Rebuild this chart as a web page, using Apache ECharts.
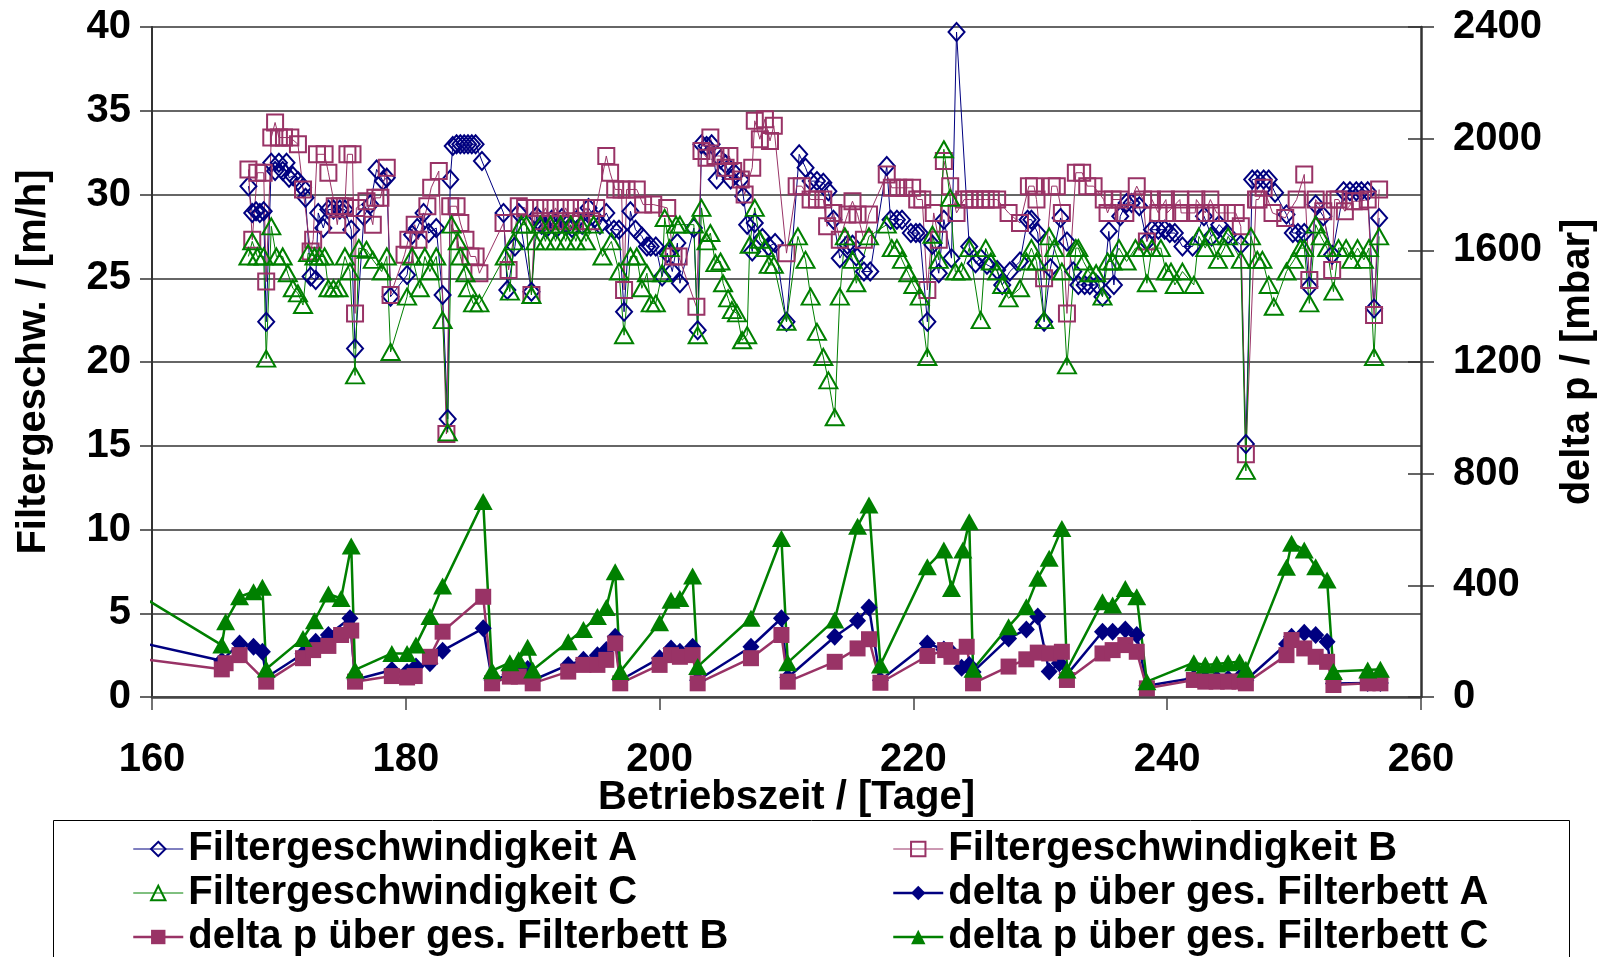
<!DOCTYPE html>
<html>
<head>
<meta charset="utf-8">
<title>Filtergeschwindigkeit und delta p</title>
<script src="https://cdn.jsdelivr.net/npm/echarts@6/dist/echarts.min.js"></script>
<style>
  html, body { margin: 0; padding: 0; background: #fff; }
  #chart { width: 1603px; height: 957px; }
</style>
</head>
<body>
<div id="chart"></div>
<script>
// Filter velocity (m/h) per filter, [day, value]
const velA = [[167.6,30.5],[167.9,28.9],[168.2,29.0],[168.5,28.9],[168.8,29.0],[169.0,22.4],[169.4,31.9],[169.7,31.4],[170.0,31.9],[170.3,31.4],[170.6,31.9],[170.8,31.0],[171.1,31.1],[171.5,30.8],[171.9,30.4],[172.1,29.8],[172.5,25.1],[172.9,24.9],[173.1,28.9],[173.5,28.0],[173.9,29.1],[174.3,29.1],[174.8,29.1],[175.2,29.1],[175.7,27.9],[176.0,20.8],[176.7,28.7],[177.2,29.4],[177.7,31.5],[178.2,30.8],[178.5,31.0],[178.8,23.9],[180.1,25.2],[180.5,27.6],[180.9,28.0],[181.4,28.9],[181.8,27.7],[182.4,28.0],[182.9,24.0],[183.3,16.6],[183.5,30.9],[183.7,32.9],[184.0,33.0],[184.3,33.0],[184.6,33.0],[184.9,33.0],[185.2,33.0],[185.5,33.0],[186.0,32.0],[187.7,28.9],[188.0,24.3],[188.6,26.9],[188.9,28.9],[189.9,24.2],[190.3,28.7],[190.7,28.2],[191.1,28.0],[191.5,28.5],[191.9,28.0],[192.3,28.6],[192.7,28.2],[193.1,28.0],[193.5,28.5],[193.9,28.2],[194.4,29.2],[194.9,28.6],[195.3,28.2],[195.8,28.9],[196.4,27.9],[196.8,27.9],[197.2,23.0],[197.7,29.0],[198.1,27.9],[198.6,27.5],[199.0,26.9],[199.3,26.9],[199.7,26.9],[200.2,25.1],[200.6,26.5],[201.0,25.4],[201.4,27.1],[201.6,24.7],[202.7,28.0],[203.0,21.9],[203.3,33.0],[203.7,32.9],[204.1,33.0],[204.5,30.9],[204.8,32.1],[205.2,31.8],[205.6,30.9],[206.0,31.2],[206.4,30.9],[206.6,29.9],[206.9,28.2],[207.3,26.6],[207.5,28.3],[208.1,27.4],[208.6,26.9],[209.1,27.1],[210.0,22.4],[211.0,32.4],[211.5,31.6],[211.9,30.8],[212.4,30.8],[212.9,30.7],[213.3,30.2],[213.7,28.5],[214.2,26.2],[214.8,27.0],[215.2,27.0],[215.5,26.3],[216.1,25.4],[216.6,25.4],[217.9,31.7],[218.2,28.5],[218.7,28.5],[219.1,28.5],[219.8,27.7],[220.2,27.7],[220.5,27.7],[221.1,22.4],[221.5,27.0],[222.0,25.3],[222.4,28.5],[223.0,26.2],[223.4,39.7],[224.4,26.9],[224.9,25.9],[225.3,26.2],[225.8,25.8],[226.6,25.5],[227.0,24.6],[227.6,25.4],[228.4,26.0],[229.0,28.5],[229.3,28.5],[229.8,27.7],[230.3,22.4],[230.8,25.6],[231.6,28.6],[232.1,27.2],[232.6,25.4],[233.0,24.6],[233.5,24.6],[233.9,24.6],[234.5,24.6],[234.9,23.9],[235.4,27.8],[235.8,24.6],[236.3,28.7],[236.8,29.5],[237.2,29.5],[237.8,29.3],[238.4,27.2],[238.8,27.9],[239.3,27.9],[239.8,27.9],[240.2,27.7],[240.6,27.7],[241.2,26.9],[242.0,26.9],[242.9,28.7],[243.5,27.5],[244.1,28.2],[244.8,27.6],[245.8,27.0],[246.2,15.1],[246.7,30.9],[247.1,30.9],[247.6,30.9],[248.0,30.9],[248.5,30.1],[249.4,28.8],[249.9,27.7],[250.3,27.7],[250.8,27.7],[251.2,24.5],[251.7,29.4],[252.3,28.7],[253.0,26.4],[253.9,30.2],[254.4,30.2],[254.9,30.2],[255.3,30.2],[255.8,30.2],[256.3,23.2],[256.7,28.6]];

const velB = [[167.6,31.5],[167.9,27.3],[168.3,31.3],[168.8,31.3],[169.0,24.8],[169.4,33.4],[169.7,34.3],[170.0,33.4],[170.4,33.4],[170.9,33.4],[171.5,33.0],[171.9,30.3],[172.5,26.6],[172.7,27.3],[173.0,32.4],[173.6,32.4],[173.9,31.3],[174.4,29.3],[174.6,28.2],[174.8,29.3],[175.2,29.3],[175.4,32.4],[175.8,32.4],[176.0,22.9],[176.1,29.2],[176.9,29.6],[177.4,28.2],[177.6,29.8],[178.0,29.8],[178.5,31.6],[178.8,24.0],[179.9,26.4],[180.2,27.3],[180.7,28.2],[181.0,27.3],[181.7,29.3],[182.0,30.4],[182.6,31.4],[183.2,15.7],[183.5,29.3],[184.0,29.3],[184.3,28.3],[184.7,27.3],[185.1,26.3],[185.5,26.3],[185.8,25.3],[187.7,28.3],[188.1,25.5],[188.9,29.3],[189.4,29.2],[189.9,24.0],[190.2,29.2],[190.6,28.4],[191.0,29.2],[191.4,28.4],[191.8,29.2],[192.2,28.4],[192.6,29.2],[193.0,28.4],[193.4,29.2],[193.8,28.4],[194.2,29.2],[194.6,28.4],[195.0,29.2],[195.8,32.3],[196.1,31.3],[196.5,30.3],[197.0,30.3],[197.2,24.3],[197.4,30.3],[198.2,30.3],[198.7,29.4],[199.5,29.4],[200.6,29.2],[201.1,26.3],[201.5,26.3],[202.9,23.3],[203.3,32.6],[203.7,32.2],[204.0,33.4],[204.4,32.3],[204.8,32.3],[205.2,31.6],[205.5,32.3],[205.8,31.4],[206.4,30.9],[206.7,30.0],[207.3,31.6],[207.5,34.4],[207.9,33.3],[208.3,34.5],[208.7,33.2],[209.0,34.1],[210.0,26.5],[210.8,30.5],[211.2,30.5],[211.9,29.7],[212.4,29.7],[212.9,29.7],[213.2,28.1],[213.7,28.9],[214.2,27.3],[214.8,28.8],[215.2,29.6],[215.6,28.8],[216.1,27.3],[216.5,28.8],[217.9,31.2],[218.3,30.4],[218.8,30.4],[219.3,30.4],[219.9,30.4],[220.3,29.7],[220.7,29.7],[221.1,24.3],[221.6,28.9],[222.0,27.3],[222.4,32.0],[222.9,30.5],[223.4,28.9],[224.0,29.7],[224.4,29.7],[224.8,29.7],[225.3,29.7],[225.7,29.7],[226.1,29.7],[226.6,29.7],[227.5,28.9],[228.4,28.3],[229.1,30.5],[229.5,30.5],[229.7,29.7],[230.3,25.0],[230.9,30.5],[231.3,30.5],[231.7,28.9],[232.1,22.9],[232.8,31.3],[233.3,31.3],[233.7,30.5],[234.2,30.5],[235.0,29.7],[235.3,28.9],[235.7,29.7],[236.3,29.7],[236.7,28.9],[237.6,30.5],[238.1,29.7],[238.4,27.2],[238.8,29.7],[239.3,28.9],[239.9,29.7],[240.0,28.9],[241.0,29.7],[241.1,28.9],[242.2,28.9],[242.3,29.7],[243.0,28.9],[243.4,29.7],[243.9,28.9],[244.7,28.9],[245.4,28.9],[245.8,28.1],[246.2,14.5],[247.0,29.7],[247.2,29.7],[247.6,30.4],[248.3,28.9],[249.3,28.6],[250.2,29.7],[250.8,31.2],[251.2,24.9],[251.7,29.7],[252.3,29.0],[253.0,25.5],[253.2,29.7],[253.5,29.7],[254.0,29.0],[254.7,29.6],[255.2,29.6],[255.8,29.7],[256.3,22.8],[256.7,30.3]];

const velC = [[167.6,26.3],[167.9,27.2],[168.3,26.3],[168.8,26.3],[169.0,20.2],[169.4,28.1],[169.8,26.3],[170.3,26.3],[170.7,25.3],[171.1,24.4],[171.5,24.1],[171.9,23.4],[172.3,26.5],[172.8,26.3],[173.2,26.3],[173.6,26.3],[173.9,24.4],[174.3,24.4],[174.7,24.4],[175.2,26.3],[175.6,25.4],[176.0,19.2],[176.3,26.8],[176.9,26.7],[177.4,26.1],[178.1,25.4],[178.5,26.3],[178.8,20.6],[180.1,23.9],[180.5,26.3],[181.1,24.4],[181.5,26.3],[181.9,25.4],[182.4,26.3],[182.9,22.5],[183.3,15.8],[183.6,28.2],[184.1,27.2],[184.3,26.3],[184.7,25.3],[184.9,24.4],[185.3,23.5],[185.8,23.5],[187.8,26.3],[188.2,24.2],[188.5,27.2],[189.1,28.2],[189.5,28.2],[189.9,24.0],[190.2,27.2],[190.6,28.2],[191.0,27.2],[191.4,28.2],[191.8,27.2],[192.2,28.2],[192.6,27.2],[193.0,28.2],[193.4,27.2],[193.8,28.2],[194.2,27.2],[194.8,28.2],[195.5,26.3],[196.2,27.2],[196.8,25.4],[197.2,21.6],[197.7,26.3],[198.2,26.3],[198.6,24.4],[199.0,25.3],[199.3,23.5],[199.7,23.5],[200.2,25.3],[200.4,28.6],[200.8,26.8],[201.3,28.2],[201.6,28.2],[202.7,28.2],[203.0,21.6],[203.3,29.2],[203.7,27.2],[204.0,27.7],[204.4,25.9],[204.8,26.0],[205.0,24.7],[205.4,23.8],[205.7,23.1],[206.1,22.9],[206.5,21.3],[206.9,21.6],[207.1,27.0],[207.5,29.2],[207.9,27.3],[208.3,26.8],[208.6,25.8],[209.0,25.8],[210.0,22.4],[210.9,27.5],[211.5,26.1],[211.9,23.9],[212.4,21.8],[212.9,20.3],[213.3,18.9],[213.8,16.7],[214.2,23.9],[214.6,27.5],[215.2,26.1],[215.5,24.7],[216.5,27.5],[217.9,28.2],[218.3,26.8],[218.7,26.8],[219.1,26.1],[219.6,25.3],[220.0,24.6],[220.5,23.9],[221.1,20.3],[221.5,27.6],[222.0,26.1],[222.4,32.7],[222.9,29.8],[223.3,25.4],[223.8,25.4],[224.4,26.8],[225.3,22.5],[225.7,26.8],[226.1,26.0],[226.6,25.4],[227.0,24.6],[227.5,23.8],[228.4,24.4],[228.9,26.0],[229.3,26.8],[229.7,26.0],[230.3,22.5],[230.7,27.5],[231.1,26.8],[231.7,25.4],[232.1,19.8],[232.8,26.8],[233.0,26.8],[233.4,26.0],[233.9,25.3],[234.4,25.3],[234.9,23.9],[235.3,26.0],[235.7,26.0],[236.2,26.8],[236.8,26.0],[237.5,26.8],[238.0,26.8],[238.4,24.7],[238.8,26.8],[239.5,26.8],[239.9,25.4],[240.3,25.4],[240.6,24.6],[241.2,25.4],[242.1,24.6],[242.5,27.5],[243.0,26.8],[243.4,27.5],[244.0,26.1],[244.5,26.8],[244.8,27.5],[245.8,26.1],[246.2,13.5],[246.6,27.5],[247.1,26.1],[247.5,26.1],[248.0,24.6],[248.4,23.3],[249.4,25.4],[250.0,26.1],[250.5,26.8],[250.8,26.8],[251.2,23.5],[251.7,28.2],[252.1,27.5],[252.6,26.8],[253.1,24.2],[253.5,26.8],[254.1,26.8],[254.5,26.1],[255.0,26.8],[255.5,26.1],[255.9,26.8],[256.3,20.3],[256.7,27.5]];

// Pressure drop over the whole filter bed (mbar), [day, value]
const dpA = [[155.0,236],[165.5,130],[166.9,192],[168.0,180],[168.7,162],[169.0,70],[171.9,155],[172.9,198],[173.9,222],[175.6,282],[176.0,62],[178.9,97],[180.1,90],[180.8,109],[181.9,121],[182.9,166],[186.1,246],[186.8,60],[188.2,80],[188.9,85],[189.6,100],[190.0,60],[192.8,115],[194.0,133],[195.1,150],[195.8,168],[196.5,216],[196.9,60],[200.0,139],[200.9,174],[201.6,162],[202.6,180],[203.0,60],[207.2,180],[209.6,282],[210.1,70],[213.8,216],[215.6,273],[216.5,321],[217.4,60],[221.1,192],[222.4,170],[223.0,160],[223.8,105],[224.4,115],[224.7,90],[227.5,210],[228.9,242],[229.8,288],[230.7,91],[231.5,121],[232.1,80],[234.9,234],[235.7,234],[236.7,242],[237.6,222],[238.4,40],[242.1,68],[243.0,65],[243.9,65],[244.8,65],[245.7,70],[246.2,60],[249.4,190],[249.8,216],[250.8,230],[251.7,222],[252.6,198],[253.1,48],[255.8,50],[256.8,50]];

const dpB = [[155.0,162],[165.5,99],[165.8,121],[166.9,150],[169.0,55],[171.9,139],[172.7,168],[173.9,183],[174.9,222],[175.7,238],[176.0,55],[178.9,75],[180.1,70],[180.7,75],[181.9,144],[182.9,234],[186.1,359],[186.8,49],[188.2,73],[188.9,73],[190.0,49],[192.8,91],[194.0,115],[195.1,115],[195.8,133],[196.5,192],[196.9,49],[200.0,115],[200.9,150],[201.6,144],[202.6,150],[203.0,49],[207.2,139],[209.6,222],[210.1,55],[213.8,126],[215.6,174],[216.5,207],[217.4,51],[221.1,147],[222.5,168],[223.0,144],[224.2,180],[224.7,49],[227.5,109],[228.9,135],[229.8,159],[230.7,156],[231.7,162],[232.1,61],[234.9,156],[235.7,168],[236.7,186],[237.6,162],[238.4,31],[242.1,61],[243.0,55],[243.9,55],[244.8,55],[245.7,55],[246.2,49],[249.4,150],[249.8,204],[250.8,174],[251.7,144],[252.6,126],[253.1,43],[255.8,49],[256.8,49]];

const dpC = [[155.0,476],[165.5,186],[165.8,270],[166.9,359],[168.0,377],[168.7,393],[169.0,100],[171.9,210],[172.8,273],[173.9,369],[174.9,353],[175.7,541],[176.0,97],[178.9,156],[180.1,156],[180.8,186],[181.9,288],[182.9,398],[186.1,700],[186.8,94],[188.2,123],[188.9,133],[189.6,178],[190.0,97],[192.8,198],[194.0,242],[195.1,288],[195.8,321],[196.5,449],[196.9,91],[200.0,266],[200.9,347],[201.6,353],[202.6,433],[203.0,109],[207.2,282],[209.6,568],[210.1,123],[213.8,276],[215.6,612],[216.5,688],[217.4,115],[221.1,467],[222.4,527],[223.0,389],[223.9,527],[224.4,628],[224.7,99],[227.5,252],[228.9,323],[229.8,425],[230.7,497],[231.7,604],[232.1,97],[234.9,341],[235.7,330],[236.7,389],[237.6,359],[238.4,55],[242.1,123],[243.0,115],[243.9,118],[244.8,123],[245.7,126],[246.2,99],[249.4,465],[249.8,551],[250.8,527],[251.7,467],[252.6,419],[253.1,91],[255.8,97],[256.8,99]];

// Axis scales
const dayTicks = { min: 160, max: 260, step: 20 };
const velTicks = { min: 0, max: 40, step: 5 };
const dpTicks = { min: 0, max: 2400, step: 400 };

const names = {
  A: 'Filtergeschwindigkeit A',
  B: 'Filtergeschwindigkeit B',
  C: 'Filtergeschwindigkeit C',
  dA: 'delta p über ges. Filterbett A',
  dB: 'delta p über ges. Filterbett B',
  dC: 'delta p über ges. Filterbett C'
};

const NAVY = '#000080', PLUM = '#993366', GREEN = '#008000';
const FONT = "'Liberation Sans', Arial, Helvetica, sans-serif";
const bigText = { fontFamily: FONT, fontSize: 40, fontWeight: 'bold', color: '#000' };
const plain = v => String(v);

function openSeries(name, data, symbol, size, color) {
  return {
    name, type: 'line', data, yAxisIndex: 0,
    symbol, symbolSize: size, showAllSymbol: true,
    itemStyle: { color: 'rgba(255,255,255,0)', borderColor: color, borderWidth: 2 },
    lineStyle: { color, width: 1 },
    emphasis: { disabled: true }, z: 3
  };
}
function filledSeries(name, data, symbol, size, color) {
  return {
    name, type: 'line', data, yAxisIndex: 1,
    symbol, symbolSize: size, showAllSymbol: true,
    itemStyle: { color, borderWidth: 0 },
    lineStyle: { color, width: 2.5 },
    emphasis: { disabled: true }, z: 4
  };
}
function legendItem(name, color, open, lineWidth) {
  return {
    name,
    itemStyle: open
      ? { color: 'rgba(255,255,255,0)', borderColor: color, borderWidth: 2 }
      : { color, borderWidth: 0 },
    lineStyle: { color, width: lineWidth }
  };
}
const legendBase = {
  orient: 'vertical', top: 829, itemWidth: 50, itemHeight: 18, itemGap: 4,
  padding: 0, selectedMode: false,
  textStyle: Object.assign({ lineHeight: 40 }, bigText)
};

const chart = echarts.init(document.getElementById('chart'), null, { renderer: 'canvas' });
chart.setOption({
  animation: false,
  backgroundColor: '#fff',
  grid: { left: 152, right: 182, top: 27, bottom: 260, outerBoundsMode: 'none', containLabel: false },
  xAxis: {
    type: 'value', min: dayTicks.min, max: dayTicks.max, interval: dayTicks.step,
    axisLine: { show: true, onZero: false, lineStyle: { color: '#444', width: 2.5 } },
    axisTick: { show: true, length: 13, lineStyle: { color: '#444', width: 1.5 } },
    axisLabel: Object.assign({ margin: 43, formatter: plain }, bigText),
    splitLine: { show: false },
    name: 'Betriebszeit / [Tage]', nameLocation: 'middle', nameGap: 81, nameMoveOverlap: false,
    nameTextStyle: bigText
  },
  yAxis: [
    {
      type: 'value', position: 'left', min: velTicks.min, max: velTicks.max, interval: velTicks.step,
      axisLine: { show: true, lineStyle: { color: '#333', width: 2 } },
      axisTick: { show: true, length: 12, lineStyle: { color: '#333', width: 1.5 } },
      axisLabel: Object.assign({ margin: 21, formatter: plain }, bigText),
      splitLine: { show: true, lineStyle: { color: '#333', width: 1.5 } },
      name: 'Filtergeschw. / [m/h]', nameLocation: 'middle', nameRotate: 90, nameGap: 98, nameMoveOverlap: false,
      nameTextStyle: bigText
    },
    {
      type: 'value', position: 'right', min: dpTicks.min, max: dpTicks.max, interval: dpTicks.step,
      axisLine: { show: true, lineStyle: { color: '#333', width: 2.5 } },
      axisTick: { show: true, length: 13, lineStyle: { color: '#333', width: 1.5 } },
      axisLabel: Object.assign({ margin: 32, formatter: plain }, bigText),
      splitLine: { show: false },
      name: 'delta p / [mbar]', nameLocation: 'middle', nameRotate: 90, nameGap: 137, nameMoveOverlap: false,
      nameTextStyle: bigText
    },
    {
      // inner half of the crossing ticks on the right axis
      type: 'value', position: 'right', min: dpTicks.min, max: dpTicks.max, interval: dpTicks.step,
      axisLine: { show: false },
      axisTick: { show: true, inside: true, length: 13, lineStyle: { color: '#333', width: 1.5 } },
      axisLabel: { show: false },
      splitLine: { show: false }
    }
  ],
  legend: [
    Object.assign({}, legendBase, {
      left: 132,
      data: [legendItem(names.A, NAVY, true, 1), legendItem(names.C, GREEN, true, 1), legendItem(names.dB, PLUM, false, 2.5)]
    }),
    Object.assign({}, legendBase, {
      left: 892,
      data: [legendItem(names.B, PLUM, true, 1), legendItem(names.dA, NAVY, false, 2.5), legendItem(names.dC, GREEN, false, 2.5)]
    })
  ],
  graphic: [{
    type: 'rect', left: 51, top: 818, silent: true,
    shape: { width: 1516, height: 200 },
    style: { fill: 'none', stroke: '#000', lineWidth: 1 }
  }],
  series: [
    openSeries(names.A, velA, 'diamond', [16, 18], NAVY),
    openSeries(names.B, velB, 'rect', 16, PLUM),
    openSeries(names.C, velC, 'triangle', [18, 16], GREEN),
    filledSeries(names.dA, dpA, 'diamond', [17, 18], NAVY),
    filledSeries(names.dB, dpB, 'rect', 16, PLUM),
    filledSeries(names.dC, dpC, 'triangle', [19, 17], GREEN)
  ]
});
</script>
</body>
</html>
